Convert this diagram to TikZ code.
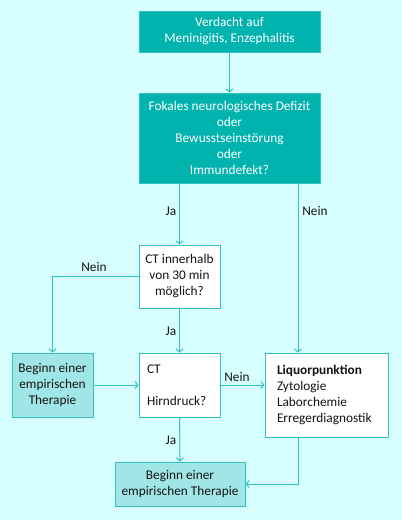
\documentclass[tikz,border=0pt]{standalone}
\usepackage{fontspec}
\setmainfont{Carlito}
\usetikzlibrary{arrows.meta}
\definecolor{bgColor}{RGB}{216,255,255}
\definecolor{tealColor}{RGB}{0,179,175}
\definecolor{lineColor}{RGB}{51,192,192}
\definecolor{lightColor}{RGB}{160,230,230}
\definecolor{textColor}{RGB}{20,20,20}
\tikzset{
  flow/.style = {x = 1pt, y = -1pt, font=\fontsize{13.3}{16}\selectfont},
  darkBox/.style = {draw=lineColor, fill=tealColor, text=white, line width=1pt, align=center, inner sep=0pt},
  whiteBox/.style = {draw=lineColor, fill=white, text=textColor, line width=1pt, inner sep=0pt},
  lightBox/.style = {draw=lineColor, fill=lightColor, text=textColor, line width=1pt, align=center, inner sep=0pt},
  connector/.style = {draw=lineColor, line width=1pt, -{Straight Barb[length=3pt,width=7pt]}},
  answer/.style = {text=textColor, inner sep=0pt}
}
\begin{document}
\begin{tikzpicture}[flow]
  % background
  \fill [bgColor] (0,0) rectangle (402,520);
  \useasboundingbox (0,0) rectangle (402,520);

  % boxes
  \node [darkBox, minimum width=181pt, minimum height=41pt] (suspicion) at (229.5,31.5)
    {Verdacht auf\\Meninigitis, Enzephalitis};
  \node [darkBox, minimum width=181pt, minimum height=90pt] (deficit) at (229.5,138)
    {Fokales neurologisches Defizit\\oder\\Bewusstseinstörung\\oder\\Immundefekt?};
  \node [whiteBox, align=center, minimum width=81pt, minimum height=63pt] (ctPossible) at (179.5,276.5)
    {CT innerhalb\\von 30 min\\möglich?};
  \node [lightBox, minimum width=81pt, minimum height=64pt] (therapyLeft) at (52.5,385)
    {Beginn einer\\empirischen\\Therapie};
  \node [whiteBox, minimum width=81pt, minimum height=64pt, text width=65pt, align=left] (ctPressure) at (179.5,385)
    {CT\\[16pt]Hirndruck?};
  \node [whiteBox, minimum width=123pt, minimum height=84pt, text width=99pt, align=left] (liquor) at (326.5,395)
    {\textbf{Liquorpunktion}\\Zytologie\\Laborchemie\\Erregerdiagnostik};
  \node [lightBox, minimum width=130pt, minimum height=44pt] (therapyBottom) at (180,484)
    {Beginn einer\\empirischen Therapie};
  \coordinate (liquorLine) at (298,0);

  % connectors
  \draw [connector] (suspicion) -- (deficit);
  \draw [connector] (ctPossible.north |- deficit.south) -- (ctPossible.north);
  \draw [connector] (liquorLine |- deficit.south) -- (liquorLine |- liquor.north);
  \draw [connector] (ctPossible.west) -| (therapyLeft.north);
  \draw [connector] (ctPossible) -- (ctPressure);
  \draw [connector] (therapyLeft) -- (ctPressure);
  \draw [connector] (ctPressure.east) -- (liquor.west |- ctPressure.east);
  \draw [connector] (ctPressure) -- (therapyBottom);
  \draw [connector] (liquorLine |- liquor.south) |- (therapyBottom.east);

  % answers
  \node [answer] (yesOne) at (171,211) {Ja};
  \node [answer] (noOne) at (315,211) {Nein};
  \node [answer] (noTwo) at (94,267) {Nein};
  \node [answer] (yesTwo) at (171,331) {Ja};
  \node [answer] (noThree) at (237,377) {Nein};
  \node [answer] (yesThree) at (171,440) {Ja};
\end{tikzpicture}
\end{document}
